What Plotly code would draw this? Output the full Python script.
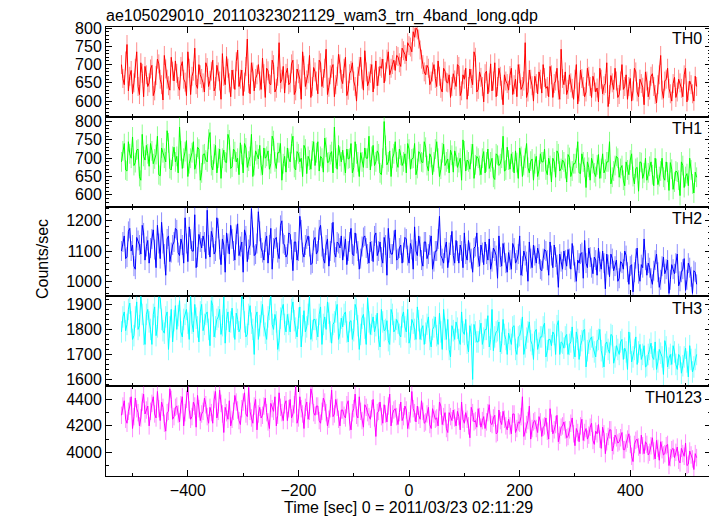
import plotly.graph_objects as go
from plotly.subplots import make_subplots

# time bins (sec): main bins every 5 s, plus the bins in between
time_main = list(range(-520, 521, 5))
time_mid = [t + 2.5 for t in range(-520, 520, 5)]

th0 = [
    700, 645, 755, 668, 620, 690, 640, 705, 612, 672,
    650, 698, 628, 715, 660, 603, 688, 642, 720, 655,
    676, 630, 708, 652, 735, 618, 682, 645, 700, 662,
    625, 692, 657, 712, 640, 680, 605, 668, 722, 650,
    685, 632, 740, 660, 615, 695, 648, 705, 628, 672,
    655, 718, 610, 683, 645, 700, 635, 760, 660, 622,
    690, 650, 712, 628, 675, 605, 698, 658, 725, 640,
    680, 620, 705, 662, 742, 638, 690, 612, 668, 702,
    648, 720, 630, 684, 655, 600, 695, 660, 738, 642,
    676, 625, 710, 668, 690, 650, 715, 672, 700, 684,
    722, 695, 738, 710, 752, 735, 775, 795, 740, 700,
    672, 690, 655, 700, 640, 668, 625, 682, 650, 610,
    675, 640, 695, 628, 660, 605, 688, 645, 720, 632,
    665, 598, 682, 650, 628, 705, 640, 668, 590, 655,
    630, 690, 645, 612, 675, 640, 760, 625, 660, 600,
    648, 680, 622, 665, 640, 695, 610, 655, 630, 742,
    645, 618, 672, 635, 660, 592, 685, 640, 625, 668,
    610, 652, 636, 690, 620, 648, 585, 670, 632, 655,
    618, 700, 640, 605, 662, 628, 680, 612, 648, 590,
    655, 630, 675, 618, 645, 725, 608, 660, 635, 600,
    665, 625, 650, 612, 690, 628, 645, 600, 640,
]
th0_mid = [
    662, 710, 628, 684, 650, 735, 618, 676, 695, 640,
    688, 615, 670, 702, 645, 725, 660, 630, 682, 710,
    640, 695, 660, 615, 690, 668, 745, 635, 672, 650,
    705, 640, 682, 628, 698, 655, 730, 645, 690, 612,
    660, 708, 640, 685, 652, 770, 620, 680, 662, 700,
    632, 675, 690, 648, 712, 625, 668, 650, 695, 676,
    645, 702, 618, 688, 660, 735, 640, 675, 610, 692,
    655, 712, 640, 690, 618, 672, 700, 645, 728, 660,
    690, 615, 675, 705, 640, 668, 720, 630, 680, 655,
    700, 660, 642, 695, 715, 680, 735, 690, 712, 725,
    705, 745, 728, 760, 748, 790, 800, 770, 715, 680,
    698, 645, 680, 662, 710, 635, 690, 652, 672, 640,
    658, 700, 615, 672, 690, 640, 662, 735, 625, 680,
    640, 675, 620, 702, 655, 612, 690, 630, 672, 648,
    670, 618, 660, 700, 632, 655, 610, 685, 642, 668,
    620, 660, 700, 635, 612, 672, 648, 690, 605, 662,
    680, 632, 650, 605, 700, 625, 662, 612, 690, 640,
    668, 625, 598, 660, 642, 705, 618, 650, 690, 610,
    655, 632, 672, 640, 600, 690, 625, 660, 638, 680,
    612, 668, 640, 595, 672, 630, 655, 690, 620, 648,
    610, 660, 635, 672, 598, 655, 620, 668,
]

th1 = [
    690, 740, 665, 712, 758, 688, 725, 640, 705, 735,
    678, 720, 698, 760, 652, 715, 690, 742, 668, 730,
    705, 785, 672, 718, 650, 700, 745, 685, 725, 660,
    712, 690, 770, 668, 735, 700, 645, 722, 688, 750,
    676, 718, 700, 742, 660, 728, 692, 765, 680, 710,
    735, 655, 700, 720, 685, 748, 672, 715, 640, 705,
    728, 690, 760, 668, 712, 700, 735, 658, 695, 720,
    680, 745, 705, 662, 730, 690, 718, 785, 670, 705,
    722, 660, 698, 740, 675, 712, 650, 690, 728, 700,
    668, 735, 690, 712, 655, 800, 682, 720, 700, 745,
    675, 708, 690, 660, 725, 698, 740, 672, 712, 688,
    730, 665, 702, 690, 745, 650, 715, 680, 698, 722,
    662, 705, 688, 640, 720, 695, 670, 738, 682, 700,
    655, 718, 690, 672, 700, 642, 708, 685, 760, 668,
    695, 712, 660, 688, 728, 650, 700, 675, 692, 640,
    705, 668, 690, 725, 655, 680, 700, 648, 712, 672,
    690, 635, 702, 665, 685, 745, 658, 690, 620, 675,
    700, 660, 682, 645, 712, 670, 690, 630, 665, 705,
    648, 680, 625, 668, 695, 650, 672, 610, 688, 660,
    640, 678, 655, 700, 628, 665, 648, 690, 612, 670,
    635, 662, 598, 680, 650, 625, 668, 605, 648,
]
th1_mid = [
    720, 668, 745, 700, 680, 722, 650, 765, 695, 712,
    740, 685, 710, 655, 728, 700, 775, 672, 705, 690,
    660, 720, 700, 748, 685, 715, 670, 730, 640, 710,
    695, 752, 680, 712, 660, 725, 700, 690, 765, 672,
    725, 690, 655, 710, 740, 675, 705, 650, 720, 698,
    680, 728, 705, 670, 760, 690, 715, 740, 685, 662,
    700, 740, 675, 718, 690, 650, 725, 705, 670, 745,
    715, 665, 700, 755, 688, 710, 660, 700, 735, 690,
    680, 725, 700, 660, 745, 690, 715, 675, 700, 760,
    705, 680, 720, 660, 700, 735, 690, 650, 712, 690,
    725, 680, 712, 740, 670, 700, 655, 718, 690, 745,
    680, 712, 655, 725, 700, 670, 738, 690, 660, 708,
    720, 675, 700, 750, 665, 690, 712, 645, 705, 680,
    700, 660, 725, 690, 648, 712, 680, 700, 665, 730,
    670, 690, 720, 645, 705, 680, 740, 660, 698, 685,
    650, 712, 690, 668, 700, 635, 690, 720, 665, 695,
    672, 710, 650, 685, 700, 660, 712, 675, 690, 640,
    685, 650, 710, 672, 660, 690, 745, 648, 680, 700,
    672, 640, 690, 655, 712, 630, 675, 690, 645, 700,
    660, 690, 625, 672, 650, 700, 640, 662, 688, 615,
    665, 640, 690, 620, 658, 700, 630, 662,
]

th2 = [
    1100, 1150, 1080, 1175, 1120, 1040, 1135, 1090, 1160, 1115,
    1060, 1140, 1105, 1185, 1075, 1125, 1020, 1150, 1095, 1130,
    1170, 1085, 1120, 1210, 1065, 1140, 1100, 1045, 1155, 1110,
    1130, 1235, 1080, 1145, 1100, 1175, 1055, 1120, 1160, 1090,
    1140, 1070, 1190, 1115, 1030, 1150, 1105, 1240, 1085, 1125,
    1165, 1095, 1130, 1060, 1175, 1110, 1145, 1075, 1200, 1120,
    1090, 1155, 1035, 1130, 1100, 1170, 1080, 1140, 1115, 1060,
    1145, 1100, 1185, 1075, 1120, 1050, 1160, 1095, 1130, 1110,
    1070, 1140, 1100, 1175, 1085, 1125, 1040, 1115, 1150, 1090,
    1130, 1065, 1160, 1100, 1080, 1145, 1020, 1110, 1090, 1170,
    1075, 1120, 1095, 1140, 1060, 1105, 1180, 1085, 1115, 1050,
    1130, 1090, 1150, 1065, 1100, 1215, 1075, 1110, 1045, 1120,
    1085, 1135, 1060, 1100, 1160, 1070, 1095, 1030, 1115, 1080,
    1120, 1055, 1090, 1140, 1065, 1100, 1010, 1080, 1125, 1060,
    1095, 1040, 1110, 1070, 1150, 1050, 1085, 1000, 1075, 1120,
    1060, 1090, 1035, 1105, 1070, 1130, 1045, 1080, 980, 1065,
    1100, 1050, 1075, 1125, 1030, 1070, 1090, 1010, 1060, 1110,
    1045, 1080, 1020, 1065, 1100, 975, 1055, 1090, 1035, 1070,
    1010, 1060, 1100, 1030, 1050, 965, 1075, 1025, 1055, 1140,
    1020, 1045, 990, 1070, 1030, 1005, 1080, 1040, 960, 1055,
    1025, 1090, 1000, 1040, 970, 1060, 1015, 1035, 990,
]
th2_mid = [
    1130, 1075, 1165, 1100, 1050, 1145, 1120, 1185, 1070, 1135,
    1110, 1170, 1045, 1125, 1195, 1090, 1140, 1065, 1120, 1175,
    1095, 1140, 1060, 1125, 1180, 1100, 1220, 1080, 1130, 1150,
    1075, 1120, 1165, 1090, 1210, 1105, 1140, 1030, 1125, 1185,
    1100, 1155, 1085, 1130, 1170, 1065, 1120, 1145, 1090, 1230,
    1110, 1070, 1150, 1120, 1040, 1140, 1095, 1185, 1125, 1080,
    1160, 1105, 1130, 1070, 1215, 1095, 1120, 1150, 1055, 1135,
    1090, 1170, 1115, 1060, 1140, 1100, 1195, 1080, 1125, 1150,
    1115, 1055, 1130, 1090, 1160, 1100, 1075, 1145, 1110, 1060,
    1100, 1150, 1085, 1130, 1060, 1120, 1175, 1090, 1135, 1070,
    1110, 1060, 1145, 1085, 1125, 1040, 1100, 1150, 1070, 1130,
    1075, 1120, 1040, 1100, 1140, 1085, 1060, 1130, 1095, 1165,
    1060, 1100, 1120, 1045, 1090, 1135, 1075, 1110, 1160, 1050,
    1095, 1130, 1070, 1040, 1110, 1085, 1150, 1050, 1095, 1030,
    1070, 1125, 1060, 1090, 1020, 1100, 1065, 1130, 1045, 1085,
    1110, 1040, 1075, 1100, 1020, 1085, 1120, 1055, 1090, 1040,
    1070, 1105, 1040, 1085, 1000, 1060, 1095, 1135, 1045, 1080,
    1025, 1070, 1110, 1040, 1060, 1090, 1015, 1075, 1050, 1000,
    1065, 1040, 1085, 990, 1055, 1030, 1110, 1000, 1045, 1070,
    1060, 1010, 1035, 1090, 980, 1050, 1025, 1070, 1005, 1040,
    1060, 985, 1030, 1075, 1005, 1045, 960, 1030,
]

th3 = [
    1790, 1870, 1820, 1905, 1760, 1850, 1800, 1935, 1780, 1860,
    1830, 1740, 1890, 1810, 1925, 1795, 1850, 1720, 1880, 1835,
    1800, 1915, 1770, 1860, 1825, 1940, 1790, 1845, 1750, 1900,
    1820, 1870, 1735, 1895, 1810, 1850, 1780, 1930, 1840, 1790,
    1885, 1760, 1840, 1805, 1920, 1770, 1860, 1825, 1700, 1870,
    1815, 1900, 1785, 1850, 1940, 1800, 1830, 1755, 1880, 1820,
    1860, 1790, 1910, 1805, 1845, 1730, 1875, 1810, 1935, 1795,
    1840, 1770, 1890, 1820, 1800, 1865, 1745, 1830, 1900, 1785,
    1810, 1870, 1750, 1835, 1795, 1880, 1720, 1845, 1805, 1925,
    1780, 1850, 1815, 1760, 1880, 1795, 1835, 1740, 1860, 1800,
    1825, 1770, 1870, 1790, 1745, 1840, 1800, 1890, 1760, 1815,
    1785, 1850, 1730, 1810, 1775, 1865, 1720, 1800, 1840, 1690,
    1795, 1830, 1760, 1870, 1780, 1745, 1815, 1600, 1790, 1750,
    1825, 1765, 1800, 1730, 1880, 1770, 1795, 1710, 1840, 1760,
    1785, 1740, 1815, 1700, 1775, 1850, 1730, 1790, 1755, 1680,
    1800, 1745, 1770, 1825, 1715, 1760, 1790, 1700, 1835, 1750,
    1725, 1780, 1740, 1810, 1690, 1760, 1735, 1795, 1650, 1745,
    1770, 1710, 1755, 1800, 1690, 1740, 1720, 1780, 1665, 1735,
    1700, 1760, 1725, 1640, 1745, 1690, 1770, 1710, 1680, 1735,
    1655, 1720, 1690, 1750, 1670, 1705, 1620, 1730, 1685, 1660,
    1710, 1640, 1690, 1655, 1725, 1610, 1680, 1650, 1700,
]
th3_mid = [
    1850, 1795, 1880, 1830, 1775, 1910, 1815, 1860, 1740, 1880,
    1800, 1860, 1775, 1930, 1840, 1785, 1870, 1810, 1750, 1895,
    1855, 1790, 1840, 1880, 1760, 1825, 1900, 1810, 1870, 1795,
    1860, 1800, 1915, 1770, 1840, 1880, 1815, 1745, 1870, 1830,
    1810, 1865, 1790, 1935, 1830, 1780, 1895, 1800, 1850, 1760,
    1870, 1815, 1760, 1880, 1820, 1860, 1720, 1845, 1900, 1790,
    1820, 1880, 1835, 1770, 1890, 1815, 1790, 1860, 1760, 1840,
    1800, 1860, 1740, 1850, 1910, 1790, 1820, 1870, 1760, 1845,
    1860, 1790, 1830, 1760, 1900, 1815, 1780, 1860, 1740, 1830,
    1820, 1790, 1865, 1730, 1830, 1800, 1755, 1880, 1790, 1840,
    1780, 1850, 1810, 1880, 1770, 1825, 1760, 1835, 1800, 1740,
    1820, 1760, 1800, 1850, 1740, 1790, 1880, 1760, 1720, 1815,
    1760, 1805, 1740, 1790, 1840, 1710, 1780, 1820, 1750, 1795,
    1740, 1800, 1855, 1760, 1715, 1790, 1830, 1745, 1780, 1700,
    1760, 1810, 1720, 1770, 1800, 1700, 1765, 1830, 1740, 1790,
    1720, 1770, 1810, 1690, 1760, 1735, 1780, 1815, 1700, 1745,
    1770, 1700, 1750, 1725, 1790, 1680, 1755, 1800, 1715, 1760,
    1730, 1690, 1760, 1715, 1650, 1750, 1705, 1775, 1690, 1720,
    1750, 1680, 1710, 1790, 1670, 1720, 1660, 1740, 1700, 1650,
    1700, 1745, 1680, 1640, 1720, 1690, 1755, 1650, 1700, 1735,
    1660, 1700, 1625, 1690, 1670, 1735, 1630, 1680,
]

th0123 = [
    4280, 4390, 4220, 4350, 4180, 4410, 4300, 4260, 4440, 4320,
    4200, 4370, 4290, 4460, 4240, 4340, 4160, 4310, 4400, 4270,
    4350, 4230, 4420, 4300, 4500, 4250, 4380, 4190, 4330, 4290,
    4410, 4270, 4340, 4220, 4460, 4310, 4370, 4150, 4300, 4390,
    4250, 4430, 4320, 4210, 4380, 4290, 4490, 4260, 4350, 4170,
    4340, 4280, 4410, 4230, 4370, 4310, 4200, 4450, 4300, 4360,
    4240, 4400, 4290, 4500, 4260, 4330, 4180, 4380, 4310, 4430,
    4280, 4350, 4220, 4410, 4300, 4250, 4470, 4290, 4340, 4200,
    4320, 4260, 4390, 4170, 4330, 4280, 4420, 4240, 4360, 4300,
    4250, 4400, 4120, 4310, 4270, 4360, 4230, 4440, 4290, 4330,
    4210, 4380, 4270, 4320, 4240, 4460, 4300, 4350, 4250, 4310,
    4230, 4340, 4180, 4290, 4260, 4380, 4210, 4300, 4150, 4270,
    4320, 4200, 4270, 4380, 4220, 4250, 4110, 4300, 4240, 4330,
    4190, 4270, 4230, 4360, 4210, 4280, 4150, 4240, 4310, 4200,
    4250, 4140, 4290, 4180, 4220, 4420, 4160, 4240, 4100, 4230,
    4180, 4270, 4120, 4200, 4160, 4330, 4140, 4210, 4080, 4190,
    4230, 4110, 4170, 4260, 4050, 4150, 4200, 4090, 4180, 4130,
    4220, 4060, 4140, 4100, 4190, 3990, 4120, 4170, 4050, 4110,
    4080, 4150, 4020, 4100, 4060, 3930, 4090, 4040, 4130, 3990,
    4060, 4000, 4110, 3950, 4030, 4080, 3980, 4050, 3900, 4020,
    3960, 4040, 3920, 3990, 4070, 3910, 3980, 3870, 3960,
]
th0123_mid = [
    4350, 4250, 4310, 4420, 4270, 4330, 4200, 4380, 4290, 4350,
    4310, 4420, 4260, 4330, 4380, 4220, 4300, 4480, 4250, 4340,
    4290, 4360, 4200, 4400, 4320, 4270, 4350, 4430, 4240, 4310,
    4360, 4220, 4300, 4400, 4260, 4470, 4290, 4340, 4250, 4200,
    4310, 4380, 4240, 4330, 4450, 4270, 4310, 4220, 4400, 4290,
    4260, 4350, 4300, 4180, 4330, 4420, 4280, 4340, 4240, 4390,
    4330, 4260, 4360, 4220, 4420, 4290, 4340, 4250, 4480, 4300,
    4350, 4240, 4310, 4380, 4200, 4330, 4270, 4400, 4250, 4320,
    4280, 4360, 4230, 4300, 4440, 4260, 4310, 4190, 4340, 4270,
    4330, 4260, 4300, 4380, 4220, 4290, 4350, 4200, 4320, 4270,
    4300, 4240, 4350, 4180, 4290, 4330, 4230, 4280, 4390, 4220,
    4290, 4210, 4330, 4250, 4200, 4350, 4270, 4180, 4300, 4240,
    4260, 4310, 4170, 4250, 4300, 4200, 4340, 4230, 4190, 4270,
    4240, 4180, 4300, 4220, 4260, 4140, 4320, 4210, 4250, 4170,
    4200, 4290, 4150, 4230, 4270, 4120, 4210, 4350, 4180, 4240,
    4150, 4230, 4190, 4260, 4100, 4220, 4170, 4280, 4130, 4200,
    4170, 4120, 4220, 4140, 4180, 4080, 4250, 4150, 4100, 4190,
    4090, 4160, 4210, 4030, 4140, 4080, 4170, 4010, 4130, 4070,
    4110, 4020, 4070, 4140, 3970, 4060, 4100, 3990, 4050, 4080,
    3980, 4050, 4010, 4090, 3940, 4020, 3990, 4060, 3960, 4030,
    4000, 3940, 4030, 3970, 3900, 4010, 3950, 3990,
]

band_labels = ["TH0", "TH1", "TH2", "TH3", "TH0123"]
series_main = [th0, th1, th2, th3, th0123]
series_mid = [th0_mid, th1_mid, th2_mid, th3_mid, th0123_mid]
errors = [26, 27, 33, 43, 66]
x_ticks = [-400, -200, 0, 200, 400]

colors = ["#ff0000", "#00ff00", "#0000ff", "#00ffff", "#ff00ff"]
err_colors = ["rgba(255,0,0,0.45)", "rgba(0,255,0,0.45)", "rgba(0,0,255,0.45)",
              "rgba(0,255,255,0.45)", "rgba(255,0,255,0.45)"]
y_ranges = [[557, 803], [568, 813], [950, 1247], [1573, 1932], [3821, 4500]]
y_dticks = [50, 50, 100, 100, 200]
y_minor = [10, 10, 20, 20, 100]

FONT = "Liberation Sans, Arial, Helvetica, sans-serif"
FS = 16


def merge(main, mid):
    xs, ys = [], []
    for k in range(len(mid)):
        xs += [time_main[k], time_mid[k]]
        ys += [main[k], mid[k]]
    xs.append(time_main[-1])
    ys.append(main[-1])
    return xs, ys


fig = make_subplots(rows=5, cols=1, shared_xaxes=True, vertical_spacing=0)

for i, lab in enumerate(band_labels):
    xs, ys = merge(series_main[i], series_mid[i])
    fig.add_trace(go.Scatter(
        x=xs, y=ys, mode="lines", name=lab,
        line=dict(color=colors[i], width=1),
        error_y=dict(type="constant", value=errors[i], color=err_colors[i],
                     thickness=1, width=0),
        showlegend=False,
    ), row=i + 1, col=1)
    fig.update_yaxes(
        range=y_ranges[i], dtick=y_dticks[i], tick0=0,
        ticks="inside", ticklen=6, tickcolor="black",
        minor=dict(ticks="inside", ticklen=3, dtick=y_minor[i], tick0=0, tickcolor="black"),
        showline=True, linecolor="black", linewidth=1, mirror="allticks",
        showgrid=False, zeroline=False,
        tickfont=dict(family=FONT, size=FS, color="black"),
        row=i + 1, col=1)
    fig.update_xaxes(
        range=[-548, 546], tickvals=x_ticks,
        ticks="inside", ticklen=6, tickcolor="black",
        minor=dict(ticks="inside", ticklen=3, dtick=100, tick0=0, tickcolor="black"),
        showline=True, linecolor="black", linewidth=1, mirror="allticks",
        showgrid=False, zeroline=False,
        tickfont=dict(family=FONT, size=FS, color="black"),
        row=i + 1, col=1)
    fig.add_annotation(
        text=lab, xref="x domain" if i == 0 else f"x{i+1} domain",
        yref="y domain" if i == 0 else f"y{i+1} domain",
        x=0.988, y=0.87, xanchor="right", yanchor="middle",
        showarrow=False, font=dict(family=FONT, size=FS, color="black"))

fig.add_annotation(text="Counts/sec", xref="paper", yref="paper",
                   x=-0.106, y=0.483, textangle=-90, showarrow=False,
                   xanchor="center", yanchor="middle",
                   font=dict(family=FONT, size=FS, color="black"))
fig.add_annotation(text="Time [sec] 0 = 2011/03/23 02:11:29", xref="paper", yref="paper",
                   x=0.5, y=-0.071, showarrow=False, xanchor="center", yanchor="middle",
                   font=dict(family=FONT, size=FS, color="black"))

# the page body adds an 8 px offset, so the figure is laid out 8 px smaller
fig.update_layout(
    width=709, height=508,
    margin=dict(l=98, r=6, t=19, b=40),
    paper_bgcolor="white", plot_bgcolor="white",
    title=dict(text="ae105029010_20110323021129_wam3_trn_4band_long.qdp",
               x=98 / 709, xanchor="left", xref="container",
               y=1 - 2 / 508, yanchor="top", yref="container", pad=dict(t=0, b=0),
               font=dict(family=FONT, size=FS, color="black")),
)

fig.write_html("out.html")
